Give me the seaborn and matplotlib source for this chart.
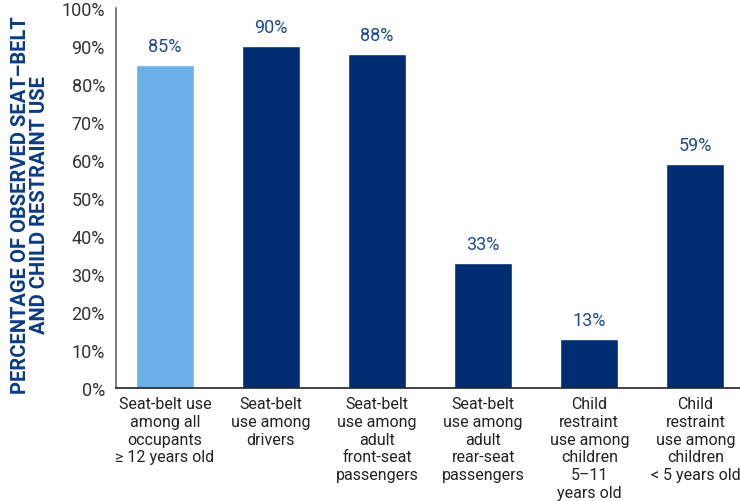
import matplotlib
matplotlib.use("Agg")
import matplotlib.pyplot as plt
import matplotlib.transforms as mtransforms
import seaborn as sns
import pandas as pd

categories = [
    "Seat-belt use\namong all\noccupants\n\u2265 12 years old",
    "Seat-belt\nuse among\ndrivers",
    "Seat-belt\nuse among\nadult\nfront-seat\npassengers",
    "Seat-belt\nuse among\nadult\nrear-seat\npassengers",
    "Child\nrestraint\nuse among\nchildren\n5\u201311\nyears old",
    "Child\nrestraint\nuse among\nchildren\n< 5 years old",
]
values = [85, 90, 88, 33, 13, 59]
bar_colors = ["#6aafe9", "#002d72", "#002d72", "#002d72", "#002d72", "#002d72"]
y_ticks = [0, 10, 20, 30, 40, 50, 60, 70, 80, 90, 100]
y_label = "PERCENTAGE OF OBSERVED SEAT\u2013BELT\nAND CHILD RESTRAINT USE"

sns.set_style("white")
plt.rcParams["font.family"] = ["Roboto", "DejaVu Sans"]

df = pd.DataFrame({"cat": categories, "val": values})

fig = plt.figure(figsize=(7.4, 5.02), dpi=100)
ax = fig.add_axes([116 / 740, (502 - 389) / 502, (740 - 116) / 740, 380 / 502])

sns.barplot(data=df, x="cat", y="val", hue="cat", palette=bar_colors,
            width=0.547, legend=False, ax=ax, saturation=1)

ax.set_ylim(0, 100)
ax.set_xlim(-0.46, 5.42)
ax.set_yticks(y_ticks)
ax.set_yticklabels([f"{t}%" for t in y_ticks], fontsize=13, color="#333333")
offset = mtransforms.ScaledTranslation(0, -6 / 100, fig.dpi_scale_trans)
for lab in ax.get_yticklabels():
    lab.set_transform(lab.get_transform() + offset)
ax.tick_params(axis="y", length=0, pad=8)
ax.tick_params(axis="x", length=0, pad=6)
ax.set_xticks(range(len(categories)))
ax.set_xticklabels(categories, fontsize=11.5, color="#222222", va="top", linespacing=1.22)
ax.set_xlabel("")
ax.set_ylabel(y_label, fontsize=14.5, fontweight="bold", color="#0b3b84",
              linespacing=0.95)
ax.yaxis.set_label_coords(-0.108, 0.485)

for i, v in enumerate(values):
    ax.text(i, v + 2.6, f"{v}%", ha="center", va="bottom", fontsize=13, color="#1f4a8f")

for s in ["top", "right"]:
    ax.spines[s].set_visible(False)
ax.spines["left"].set_color("#666666")
ax.spines["left"].set_linewidth(1.2)
ax.spines["bottom"].set_color("#222222")
ax.spines["bottom"].set_linewidth(1.2)
ax.grid(False)

fig.savefig("out.png", dpi=100)
